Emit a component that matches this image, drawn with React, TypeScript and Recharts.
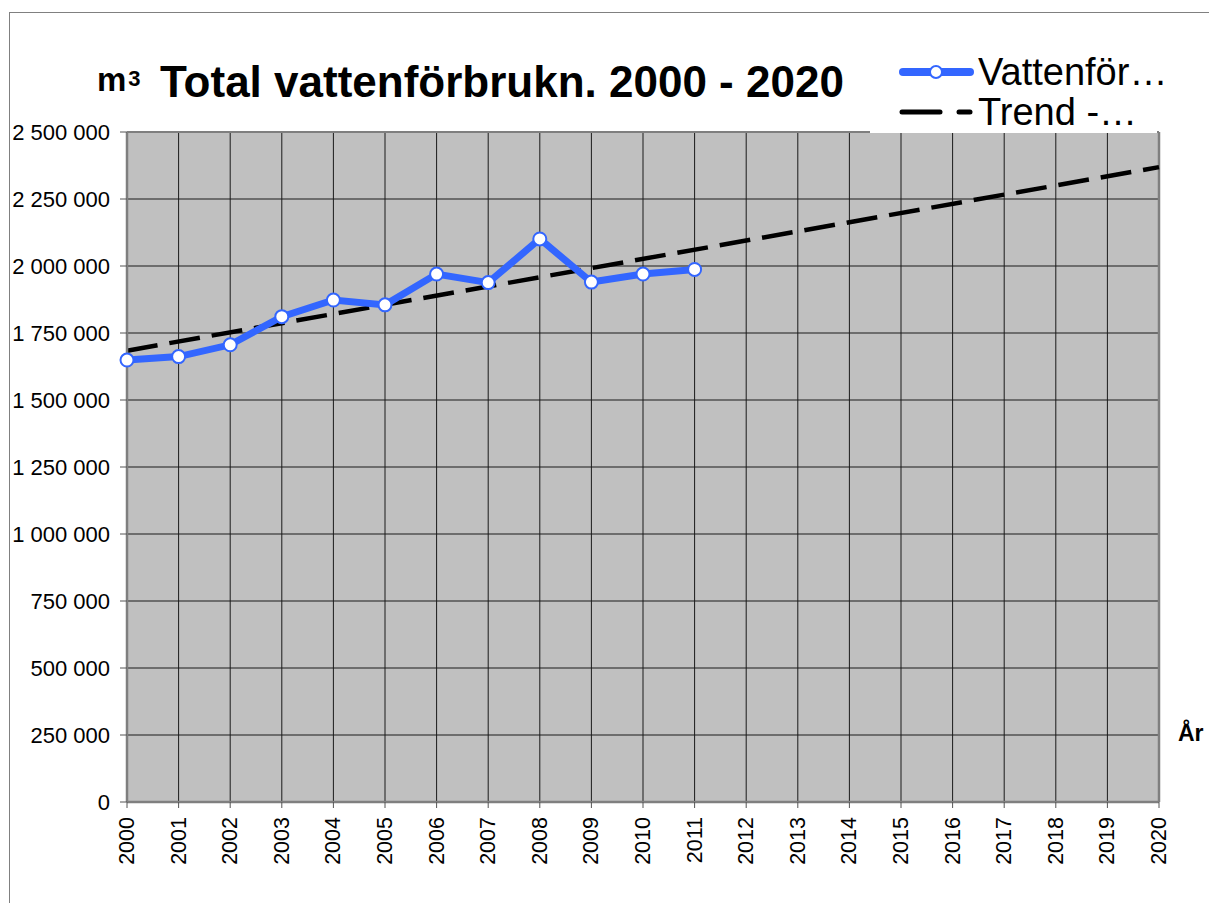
import { LineChart, Line, XAxis, YAxis, CartesianGrid, ReferenceLine } from 'recharts';

// År på x-axeln
const years = [
  2000, 2001, 2002, 2003, 2004, 2005, 2006, 2007, 2008, 2009, 2010,
  2011, 2012, 2013, 2014, 2015, 2016, 2017, 2018, 2019, 2020,
];
// Total vattenförbrukning (m³), 2000–2011
const consumption = [
  1649000, 1662000, 1706000, 1811000, 1873000, 1855000,
  1970000, 1938000, 2101000, 1940000, 1970000, 1987000,
];
// Trendlinjen — ändpunkter 2000 och 2020
const trendYears = [2000, 2020];
const trendValues = [1684000, 2369000];
// Y-axelns steg
const yTicks = [0, 250000, 500000, 750000, 1000000, 1250000, 1500000, 1750000, 2000000, 2250000, 2500000];

const BLUE = '#3366ff';
const FONT = '"Liberation Sans", Arial, sans-serif';

const rows = years.map((y, i) => {
  const t = trendYears.indexOf(y);
  return {
    year: y,
    vatten: i < consumption.length ? consumption[i] : null,
    trend: t >= 0 ? trendValues[t] : null,
  };
});

const fmt = (v: number): string => String(v).replace(/\B(?=(\d{3})+(?!\d))/g, ' ');

const YearTick = (p: { x: number; y: number; payload: { value: number } }) => (
  <text
    x={p.x}
    y={p.y}
    transform={`rotate(-90 ${p.x} ${p.y})`}
    textAnchor="end"
    dominantBaseline="central"
    fontSize={21.5}
    fill="#000"
    fontFamily={FONT}
  >
    {p.payload.value}
  </text>
);

export default function App() {
  return (
    <div
      style={{
        position: 'fixed',
        left: 0,
        top: 0,
        width: 1209,
        height: 903,
        overflow: 'hidden',
        background: '#fff',
        fontFamily: FONT,
      }}
    >
      {/* ram runt diagramytan */}
      <div
        style={{
          position: 'absolute',
          left: 9,
          top: 12,
          width: 1400,
          height: 1200,
          border: '1.5px solid #808080',
        }}
      />
      <LineChart
        width={1209}
        height={903}
        data={rows}
        margin={{ top: 132, right: 50, bottom: 0, left: 7 }}
        style={{ position: 'absolute', left: 0, top: 0 }}
      >
        <CartesianGrid fill="#c0c0c0" stroke="#1a1a1a" strokeWidth={1} />
        <XAxis
          dataKey="year"
          type="number"
          domain={[2000, 2020]}
          ticks={years}
          interval={0}
          height={101}
          axisLine={{ stroke: '#7f7f7f', strokeWidth: 2.5 }}
          tickLine={{ stroke: '#555' }}
          tickSize={6}
          tickMargin={9}
          tick={YearTick}
        />
        <YAxis
          type="number"
          domain={[0, 2500000]}
          ticks={yTicks}
          interval={0}
          width={120}
          axisLine={{ stroke: '#7f7f7f', strokeWidth: 2.5 }}
          tickLine={{ stroke: '#555' }}
          tickSize={7}
          tickMargin={10}
          tickFormatter={fmt}
          tick={{ fontSize: 22, fill: '#000', fontFamily: FONT }}
        />
        <ReferenceLine y={2500000} stroke="#7f7f7f" strokeWidth={2} />
        <ReferenceLine x={2020} stroke="#7f7f7f" strokeWidth={2.5} />
        <Line
          dataKey="trend"
          type="linear"
          stroke="#000"
          strokeWidth={4.5}
          strokeDasharray="31 12"
          dot={false}
          activeDot={false}
          connectNulls
          isAnimationActive={false}
        />
        <Line
          dataKey="vatten"
          type="linear"
          stroke={BLUE}
          strokeWidth={7}
          dot={{ r: 6.5, fill: '#fff', stroke: BLUE, strokeWidth: 2 }}
          activeDot={false}
          isAnimationActive={false}
        />
      </LineChart>

      {/* rubrik */}
      <div style={{ position: 'absolute', left: 97, top: 60, fontSize: 33, fontWeight: 700, lineHeight: '40px', whiteSpace: 'nowrap' }}>
        m<span style={{ fontSize: 22, verticalAlign: 'top', position: 'relative', top: -1, marginLeft: 2 }}>3</span>
      </div>
      <div style={{ position: 'absolute', left: 160, top: 56, fontSize: 44, fontWeight: 700, lineHeight: '52px', whiteSpace: 'nowrap' }}>
        Total vattenförbrukn. 2000 - 2020
      </div>

      {/* förklaring */}
      <div
        style={{
          position: 'absolute',
          left: 870,
          top: 52,
          width: 287,
          height: 81,
          background: '#fff',
          fontSize: 38,
          lineHeight: '40px',
          whiteSpace: 'nowrap',
          overflow: 'visible',
        }}
      >
        <div style={{ display: 'flex', alignItems: 'center', height: 40 }}>
          <svg width={108} height={40} style={{ flexShrink: 0 }}>
            <line x1={33} y1={20} x2={100} y2={20} stroke={BLUE} strokeWidth={8} strokeLinecap="round" />
            <circle cx={66} cy={20} r={6} fill="#fff" stroke={BLUE} strokeWidth={2} />
          </svg>
          <span style={{ flexShrink: 0 }}>Vattenför…</span>
        </div>
        <div style={{ display: 'flex', alignItems: 'center', height: 40 }}>
          <svg width={108} height={40} style={{ flexShrink: 0 }}>
            <line x1={32} y1={20} x2={70} y2={20} stroke="#000" strokeWidth={5} strokeLinecap="round" />
            <line x1={89} y1={20} x2={100} y2={20} stroke="#000" strokeWidth={5} strokeLinecap="round" />
          </svg>
          <span style={{ flexShrink: 0 }}>Trend -…</span>
        </div>
      </div>

      {/* axeltitel */}
      <div style={{ position: 'absolute', left: 1178, top: 719, fontSize: 23, fontWeight: 700, lineHeight: '28px' }}>
        År
      </div>
    </div>
  );
}
